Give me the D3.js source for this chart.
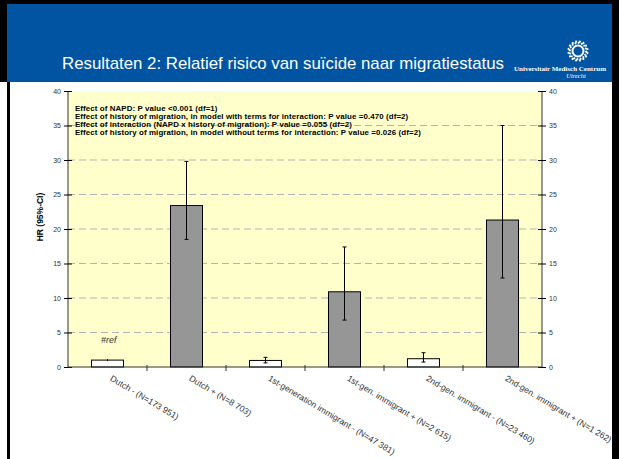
<!DOCTYPE html>
<html><head><meta charset="utf-8">
<script src="https://cdn.jsdelivr.net/npm/d3@7"></script>
<style>body{margin:0;background:#fff;} svg{display:block;}</style>
</head><body>
<svg id="c" width="619" height="459"></svg>
<script>
const categories = ["Dutch - (N=173 951)", "Dutch + (N=8 703)", "1st-generation immigrant - (N=47 381)", "1st-gen. immigrant + (N=2 615)", "2nd-gen. immigrant - (N=23 460)", "2nd-gen. immigrant + (N=1 262)"];
const hr = [1.0, 23.4, 0.95, 10.9, 1.2, 21.3];
const ciLow = [null, 18.5, 0.6, 6.8, 0.72, 12.9];
const ciHigh = [null, 29.8, 1.4, 17.4, 2.07, 35.0];
const napdPositive = [false, true, false, true, false, true];
const yTicks = [0, 5, 10, 15, 20, 25, 30, 35, 40];
const notes = [
  "Effect of NAPD: P value <0.001 (df=1)",
  "Effect of history of migration, in model with terms for interaction: P value =0.470 (df=2)",
  "Effect of interaction (NAPD x history of migration): P value =0.055 (df=2)",
  "Effect of history of migration, in model without terms for interaction: P value =0.026 (df=2)"
];
const title = "Resultaten 2: Relatief risico van suïcide naar migratiestatus";

const svg = d3.select("#c");
const W = 619, H = 459;
// slide frame
svg.append("rect").attr("x",0).attr("y",0).attr("width",W).attr("height",H).attr("fill","#fff");
svg.append("rect").attr("x",0).attr("y",0).attr("width",W).attr("height",82).attr("fill","#000");
svg.append("rect").attr("x",7).attr("y",4).attr("width",605).attr("height",78).attr("fill","#0054A2");
svg.append("rect").attr("x",7).attr("y",82).attr("width",3).attr("height",H-82).attr("fill","#000");
svg.append("rect").attr("x",612).attr("y",0).attr("width",7).attr("height",H).attr("fill","#000");

svg.append("text").attr("x",62).attr("y",69).attr("fill","#fff")
  .attr("font-family","Liberation Sans, Arial, sans-serif").attr("font-size",17)
  .attr("textLength",442).attr("lengthAdjust","spacingAndGlyphs").text(title);
svg.append("text").attr("x",560).attr("y",71).attr("text-anchor","middle").attr("fill","#fff")
  .attr("font-family","Liberation Serif, serif").attr("font-size",7).attr("font-weight","bold").text("Universitair Medisch Centrum");
svg.append("text").attr("x",576).attr("y",78).attr("text-anchor","middle").attr("fill","#fff")
  .attr("font-family","Liberation Serif, serif").attr("font-size",6.5).attr("font-style","italic").text("Utrecht");
// logo
const logo = svg.append("g").attr("transform","translate(578,51)");
logo.append("circle").attr("r",5.5).attr("fill","none").attr("stroke","#fff").attr("stroke-width",2);
d3.range(16).forEach(i=>{
  const a = i/16*2*Math.PI;
  logo.append("line").attr("x1",Math.cos(a)*7.5).attr("y1",Math.sin(a)*7.5)
    .attr("x2",Math.cos(a+0.25)*10.5).attr("y2",Math.sin(a+0.25)*10.5)
    .attr("stroke","#fff").attr("stroke-width",1.8);
});

const m = {l:68, r:542, t:91, b:367};
const x = d3.scaleBand().domain(categories).range([m.l, m.r]).paddingInner(0).paddingOuter(0);
const y = d3.scaleLinear().domain([0,40]).range([m.b, m.t]);

svg.append("rect").attr("x",m.l).attr("y",m.t).attr("width",m.r-m.l).attr("height",m.b-m.t).attr("fill","#FFFFCC");

// gridlines
svg.append("g").selectAll("line").data(yTicks.filter(d=>d>0 && d<40)).join("line")
  .attr("x1",m.l).attr("x2",m.r).attr("y1",d=>y(d)).attr("y2",d=>y(d))
  .attr("stroke","#b4b4b4").attr("stroke-width",1).attr("stroke-dasharray","7,4");

// notes
const nt = svg.append("g");
notes.forEach((t,i)=>{
  nt.append("text").attr("x",75).attr("y",110.5+i*8.2).attr("font-family","Liberation Sans, Arial, sans-serif")
    .attr("font-size",7.9).attr("font-weight","bold").attr("fill","#000").attr("letter-spacing",0.1).text(t);
});

// bars
const bw = 32;
const bars = svg.append("g");
categories.forEach((c,i)=>{
  const cx = x(c) + x.bandwidth()/2;
  bars.append("rect").attr("x",cx-bw/2).attr("y",y(hr[i])).attr("width",bw).attr("height",y(0)-y(hr[i]))
    .attr("fill", napdPositive[i] ? "#969696" : "#fff").attr("stroke","#000").attr("stroke-width",1);
  if (ciLow[i] !== null) {
    bars.append("line").attr("x1",cx).attr("x2",cx).attr("y1",y(ciLow[i])).attr("y2",y(ciHigh[i])).attr("stroke","#000");
    [ciLow[i], ciHigh[i]].forEach(v=>{
      bars.append("line").attr("x1",cx-2).attr("x2",cx+2).attr("y1",y(v)).attr("y2",y(v)).attr("stroke","#000");
    });
  } else {
    bars.append("line").attr("x1",cx).attr("x2",cx).attr("y1",y(hr[i])-1).attr("y2",y(hr[i])+1).attr("stroke","#000");
  }
});

svg.append("text").attr("x",101).attr("y",343).attr("font-family","Liberation Sans, Arial, sans-serif")
  .attr("font-size",9).attr("font-style","italic").attr("fill","#333").text("#ref");

// axes
const font = "Liberation Sans, Arial, sans-serif";
const yl = svg.append("g").attr("transform",`translate(${m.l},0)`).call(d3.axisLeft(y).tickValues(yTicks).tickSize(4).tickPadding(3));
const yr = svg.append("g").attr("transform",`translate(${m.r},0)`).call(d3.axisRight(y).tickValues(yTicks).tickSize(4).tickPadding(3));
[yl,yr].forEach(g=>{
  g.select(".domain").attr("stroke","#333").attr("d", `M0,${m.t}V${m.b}`);
  g.selectAll(".tick line").attr("stroke","#000");
  g.selectAll(".tick text").attr("font-family",font).attr("font-size",7).attr("fill","#333");
});
yl.selectAll(".tick line").attr("x1",4);
yr.selectAll(".tick line").attr("x1",-4);

const xa = svg.append("g").attr("transform",`translate(0,${m.b})`)
  .call(d3.axisBottom(x).tickSize(0).tickFormat(""));
xa.select(".domain").attr("stroke","#333").attr("d",`M${m.l},0H${m.r}`);
// boundary ticks
svg.append("g").selectAll("line").data(categories.slice(1)).join("line")
  .attr("x1",d=>x(d)).attr("x2",d=>x(d)).attr("y1",m.b-2).attr("y2",m.b+4).attr("stroke","#333");

// category labels
svg.append("g").selectAll("text").data(categories).join("text")
  .attr("transform",d=>`translate(${x(d)+x.bandwidth()/2+2},${m.b+13}) rotate(31)`)
  .attr("font-family",font).attr("font-size",8.6).attr("fill","#333").text(d=>d);

svg.append("text").attr("transform","translate(43,217) rotate(-90)").attr("text-anchor","middle")
  .attr("font-family",font).attr("font-size",8.5).attr("font-weight","bold").attr("fill","#000").text("HR (95%-CI)");
</script>
</body></html>
